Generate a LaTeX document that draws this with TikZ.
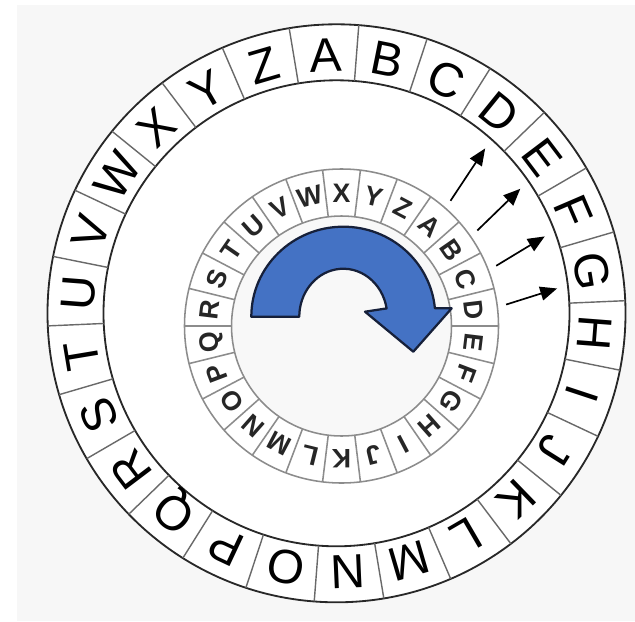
\documentclass[tikz,border=0pt]{standalone}
\usepackage{fontspec}
\usetikzlibrary{arrows.meta,calc}
\newfontfamily\ringfont{Liberation Sans}
\definecolor{PaperGray}{RGB}{247,247,247}
\definecolor{DiscGray}{RGB}{248,248,248}
\definecolor{RingLine}{RGB}{40,40,40}
\definecolor{SepGray}{RGB}{105,105,105}
\definecolor{InnerLine}{RGB}{140,140,140}
\definecolor{TurnBlue}{RGB}{68,114,196}
\definecolor{TurnEdge}{RGB}{22,32,58}
\tikzset{
  >=Latex,
  outletter/.style={font=\ringfont\fontsize{34}{35}\selectfont,inner sep=0pt,text height=24.3pt,text depth=0pt,text=black},
  inletter/.style={font=\ringfont\bfseries\fontsize{19}{20}\selectfont,inner sep=0pt,text height=13.6pt,text depth=0pt,text=black!85},
  ringline/.style={draw=RingLine,line width=1.3pt},
  sepline/.style={draw=SepGray,line width=1pt},
  innerline/.style={draw=InnerLine,line width=1.1pt},
  turn/.style={fill=TurnBlue,draw=TurnEdge,line width=1.6pt,line join=round},
  shiftarrow/.style={-{Triangle[length=12pt,width=10pt]},line width=1.2pt,draw=black}
}
\begin{document}
\begin{tikzpicture}[x=0.025cm,y=0.025cm]
  \useasboundingbox (0,0) rectangle (635,621);
  \fill[white] (0,0) rectangle (635,621);
  \fill[PaperGray] (17,0) rectangle (635,616);
  \coordinate (O) at (336.5,307.7);
  \coordinate (I) at (341.5,295);
  \coordinate (C) at (343.3,304.3);
  % outer ring
  \fill[white] (O) circle[radius=289];
  \draw[ringline] (O) circle[radius=289];
  \draw[ringline] (O) circle[radius=233];
  \foreach \l [count=\k from 0] in {A,...,Z} {
    \pgfmathsetmacro\ang{92.5-\k*360/26}
    \node[outletter,rotate=\ang-90] (o\l) at ($(O)+(\ang:259)$) {\l};
    \draw[sepline] ($(O)+(\ang-180/26:233)$) -- ($(O)+(\ang-180/26:289)$);
  }
  % inner ring, shifted by three
  \fill[white] (I) circle[radius=157];
  \fill[DiscGray] (I) circle[radius=110];
  \draw[innerline] (I) circle[radius=157];
  \draw[innerline] (I) circle[radius=110];
  \foreach \l [count=\k from 0] in {A,...,Z} {
    \pgfmathsetmacro\ang{90-(\k+3)*360/26}
    \node[inletter,rotate=\ang-90] (i\l) at ($(I)+(\ang:133.5)$) {\l};
    \draw[innerline] ($(I)+(\ang-180/26:110)$) -- ($(I)+(\ang-180/26:157)$);
  }
  % turning arrow
  \draw[turn] ($(C)+(-92,0)$) arc[start angle=180,end angle=5.4,x radius=92,y radius=90]
    -- (451.7,312.7) -- (413.3,269.3) -- (365,309.3) -- (386.6,312.6)
    arc[start angle=10,end angle=180,x radius=44,y radius=48] -- cycle;
  % A->D, B->E, C->F, D->G
  \foreach \k in {0,...,3} {
    \coordinate (t\k) at ($(I)+(90.5-\k*360/26-3*360/26:166)$);
    \coordinate (h\k) at ($(O)+(89.5-\k*360/26-3*360/26:222)$);
    \draw[shiftarrow] (t\k) -- (h\k);
  }
\end{tikzpicture}
\end{document}
